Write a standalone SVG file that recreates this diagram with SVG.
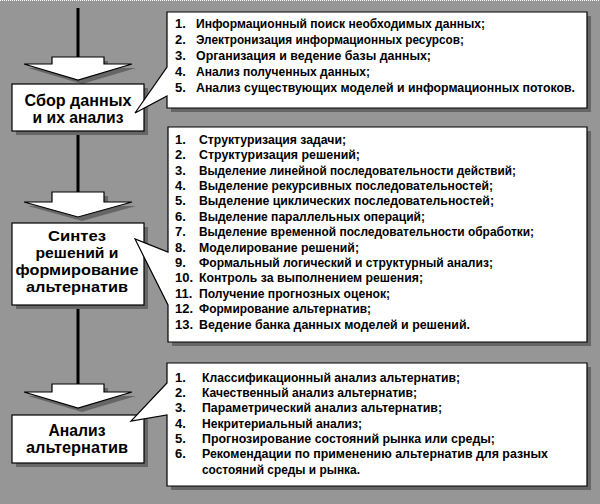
<svg xmlns="http://www.w3.org/2000/svg" width="600" height="504" viewBox="0 0 600 504">
<style>
.sh{fill:#666666}
.bx{fill:#ffffff;stroke:#000000;stroke-width:1.2}
.ttl{font-family:"Liberation Sans",Arial,sans-serif;font-weight:bold;font-size:16.5px;fill:#000;text-anchor:middle}
.t2{font-size:15px}
.li{font-family:"Liberation Sans",Arial,sans-serif;font-weight:bold;font-size:13px;fill:#000}
.ln{stroke:#000;stroke-width:3;fill:none}
</style>
<rect x="0" y="0" width="600" height="504" fill="#969696"/>
<line x1="0" y1="0.5" x2="600" y2="0.5" stroke="#ffffff" stroke-dasharray="1,1"/>

<g id="connectors">
  <line class="ln" x1="78" y1="8" x2="78" y2="57"/>
  <line class="ln" x1="78" y1="131" x2="78" y2="192"/>
  <line class="ln" x1="78" y1="305" x2="78" y2="384"/>
  <polygon class="sh" transform="translate(4,4)" points="52,57 104,57 104,64 132,64 78,80 24,64 52,64"/>
  <polygon class="bx" points="52,57 104,57 104,64 132,64 78,80 24,64 52,64"/>
  <polygon class="sh" transform="translate(4,4)" points="52,192 104,192 104,202 132,202 78,217 24,202 52,202"/>
  <polygon class="bx" points="52,192 104,192 104,202 132,202 78,217 24,202 52,202"/>
  <polygon class="sh" transform="translate(4,4)" points="52,384 104,384 104,392 132,392 78,408 24,392 52,392"/>
  <polygon class="bx" points="52,384 104,384 104,392 132,392 78,408 24,392 52,392"/>
</g>

<g id="node-sbor">
  <rect class="sh" x="16" y="88" width="132" height="47"/>
  <rect class="bx" x="12" y="84" width="132" height="47"/>
  <text class="ttl" x="78" y="106" textLength="107" lengthAdjust="spacingAndGlyphs">Сбор данных</text>
  <text class="ttl" x="78" y="123" textLength="91" lengthAdjust="spacingAndGlyphs">и их анализ</text>
</g>

<g id="node-sintez">
  <rect class="sh" x="16" y="227" width="132" height="82"/>
  <rect class="bx" x="12" y="223" width="132" height="82"/>
  <text class="ttl t2" x="77" y="241" textLength="58" lengthAdjust="spacingAndGlyphs">Синтез</text>
  <text class="ttl t2" x="77" y="258" textLength="83" lengthAdjust="spacingAndGlyphs">решений и</text>
  <text class="ttl t2" x="77" y="275" textLength="123" lengthAdjust="spacingAndGlyphs">формирование</text>
  <text class="ttl t2" x="77" y="292" textLength="102" lengthAdjust="spacingAndGlyphs">альтернатив</text>
</g>

<g id="node-analiz">
  <rect class="sh" x="16" y="419" width="132" height="48"/>
  <rect class="bx" x="12" y="415" width="132" height="48"/>
  <text class="ttl" x="77" y="436" textLength="57" lengthAdjust="spacingAndGlyphs">Анализ</text>
  <text class="ttl" x="77" y="453" textLength="102" lengthAdjust="spacingAndGlyphs">альтернатив</text>
</g>

<g id="list-sbor">
  <rect class="sh" x="171" y="16" width="420" height="96"/>
  <path class="bx" d="M167,12 H587 V108 H167 V96 L135,113 L167,67 Z"/>
  <text class="li" x="175" y="27.5">1.</text><text class="li" x="196" y="27.5" textLength="289" lengthAdjust="spacingAndGlyphs">Информационный поиск необходимых данных;</text>
  <text class="li" x="175" y="43.5">2.</text><text class="li" x="196" y="43.5" textLength="268" lengthAdjust="spacingAndGlyphs">Электронизация информационных ресурсов;</text>
  <text class="li" x="175" y="59.5">3.</text><text class="li" x="196" y="59.5" textLength="235" lengthAdjust="spacingAndGlyphs">Организация и ведение базы данных;</text>
  <text class="li" x="175" y="75.5">4.</text><text class="li" x="196" y="75.5" textLength="174" lengthAdjust="spacingAndGlyphs">Анализ полученных данных;</text>
  <text class="li" x="175" y="91.5">5.</text><text class="li" x="196" y="91.5" textLength="379" lengthAdjust="spacingAndGlyphs">Анализ существующих моделей и информационных потоков.</text>
</g>

<g id="list-sintez">
  <rect class="sh" x="172" y="131" width="419" height="215"/>
  <path class="bx" d="M168,127 H587 V342 H168 V305 L135,239 L168,252 Z"/>
  <text class="li" x="175" y="143.8">1.</text><text class="li" x="199" y="143.8" textLength="147" lengthAdjust="spacingAndGlyphs">Структуризация задачи;</text>
  <text class="li" x="175" y="159.2">2.</text><text class="li" x="199" y="159.2" textLength="161" lengthAdjust="spacingAndGlyphs">Структуризация решений;</text>
  <text class="li" x="175" y="174.6">3.</text><text class="li" x="199" y="174.6" textLength="317" lengthAdjust="spacingAndGlyphs">Выделение линейной последовательности действий;</text>
  <text class="li" x="175" y="190">4.</text><text class="li" x="199" y="190" textLength="294" lengthAdjust="spacingAndGlyphs">Выделение рекурсивных последовательностей;</text>
  <text class="li" x="175" y="205.4">5.</text><text class="li" x="199" y="205.4" textLength="295" lengthAdjust="spacingAndGlyphs">Выделение циклических последовательностей;</text>
  <text class="li" x="175" y="220.8">6.</text><text class="li" x="199" y="220.8" textLength="226" lengthAdjust="spacingAndGlyphs">Выделение параллельных операций;</text>
  <text class="li" x="175" y="236.2">7.</text><text class="li" x="199" y="236.2" textLength="335" lengthAdjust="spacingAndGlyphs">Выделение временной последовательности обработки;</text>
  <text class="li" x="175" y="251.6">8.</text><text class="li" x="199" y="251.6" textLength="160" lengthAdjust="spacingAndGlyphs">Моделирование решений;</text>
  <text class="li" x="175" y="267">9.</text><text class="li" x="199" y="267" textLength="294" lengthAdjust="spacingAndGlyphs">Формальный логический и структурный анализ;</text>
  <text class="li" x="175" y="282.4">10.</text><text class="li" x="199" y="282.4" textLength="224" lengthAdjust="spacingAndGlyphs">Контроль за выполнением решения;</text>
  <text class="li" x="175" y="297.8">11.</text><text class="li" x="199" y="297.8" textLength="191" lengthAdjust="spacingAndGlyphs">Получение прогнозных оценок;</text>
  <text class="li" x="175" y="313.2">12.</text><text class="li" x="199" y="313.2" textLength="172" lengthAdjust="spacingAndGlyphs">Формирование альтернатив;</text>
  <text class="li" x="175" y="328.6">13.</text><text class="li" x="199" y="328.6" textLength="271" lengthAdjust="spacingAndGlyphs">Ведение банка данных моделей и решений.</text>
</g>

<g id="list-analiz">
  <rect class="sh" x="171" y="367" width="420" height="123"/>
  <path class="bx" d="M167,363 H587 V486 H167 V415 L131,421 L167,383 Z"/>
  <text class="li" x="175" y="381.5">1.</text><text class="li" x="202" y="381.5" textLength="258" lengthAdjust="spacingAndGlyphs">Классификационный анализ альтернатив;</text>
  <text class="li" x="175" y="396.8">2.</text><text class="li" x="202" y="396.8" textLength="215" lengthAdjust="spacingAndGlyphs">Качественный анализ альтернатив;</text>
  <text class="li" x="175" y="412.2">3.</text><text class="li" x="202" y="412.2" textLength="240" lengthAdjust="spacingAndGlyphs">Параметрический анализ альтернатив;</text>
  <text class="li" x="175" y="427.5">4.</text><text class="li" x="202" y="427.5" textLength="160" lengthAdjust="spacingAndGlyphs">Некритериальный анализ;</text>
  <text class="li" x="175" y="442.8">5.</text><text class="li" x="202" y="442.8" textLength="293" lengthAdjust="spacingAndGlyphs">Прогнозирование состояний рынка или среды;</text>
  <text class="li" x="175" y="458.2">6.</text><text class="li" x="202" y="458.2" textLength="346" lengthAdjust="spacingAndGlyphs">Рекомендации по применению альтернатив для разных</text>
  <text class="li" x="202" y="473.5" textLength="158" lengthAdjust="spacingAndGlyphs">состояний среды и рынка.</text>
</g>
</svg>
